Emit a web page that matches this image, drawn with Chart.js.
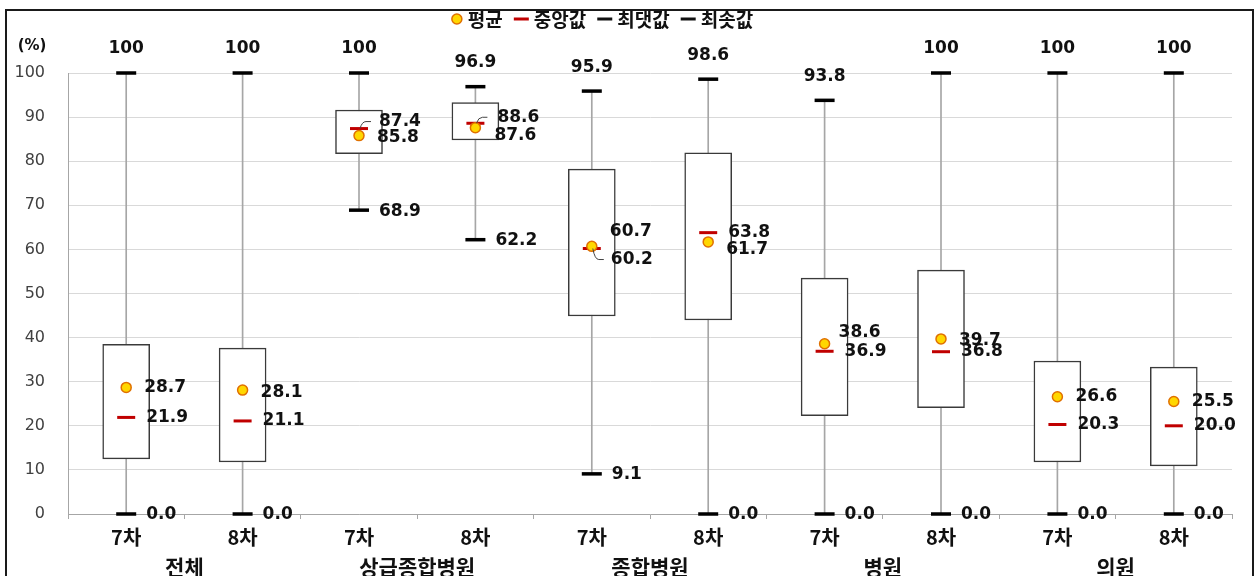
<!DOCTYPE html>
<html>
<head>
<meta charset="utf-8">
<script src="https://cdn.jsdelivr.net/npm/chart.js@4/dist/chart.umd.min.js"></script>
<style>
  html, body { margin: 0; padding: 0; background: #fff; }
  #wrap { width: 1257px; height: 576px; }
</style>
</head>
<body>
<div id="wrap"><canvas id="c" width="1257" height="576"></canvas></div>
<script>
// ---------- data ----------
const categories = ['7차', '8차', '7차', '8차', '7차', '8차', '7차', '8차', '7차', '8차'];
const groups = ['전체', '상급종합병원', '종합병원', '병원', '의원'];
const maxVals = [100, 100, 100, 96.9, 95.9, 98.6, 93.8, 100, 100, 100];
const minVals = [0.0, 0.0, 68.9, 62.2, 9.1, 0.0, 0.0, 0.0, 0.0, 0.0];
const q3Vals = [38.5, 37.6, 91.6, 93.3, 78.2, 81.9, 53.5, 55.3, 34.7, 33.3];
const q1Vals = [12.5, 11.8, 81.7, 84.8, 44.9, 44.0, 22.3, 24.1, 11.8, 10.9];
const meanVals = [28.7, 28.1, 85.8, 87.6, 60.7, 61.7, 38.6, 39.7, 26.6, 25.5];
const medianVals = [21.9, 21.1, 87.4, 88.6, 60.2, 63.8, 36.9, 36.8, 20.3, 20.0];
const legendLabels = ['평균', '중앙값', '최댓값', '최솟값'];
const unitLabel = '(%)';

// ---------- label placement (style only) ----------
const meanLabelDx = [18, 18, 18, 19, 18, 18, 14, 18, 18, 18];
const meanLabelDy = [0, 2, 1.5, 8, -15, 8, -11, 2, 0, 0];
const medianLabelDx = [20, 20, 20, 22, 19, 20, 20, 20, 20, 20];
const medianLabelDy = [0, 0, -7, -6, 11, 0, 0, 0, 0, 0];
const medianLeader = [false, false, true, true, true, false, false, false, false, false];

const NUM_FONT = 'bold 17px "DejaVu Sans", sans-serif';
const KOR_FONT = '"Noto Sans CJK KR", "Noto Sans", sans-serif';

function fmt(v) { return v === 100 ? '100' : v.toFixed(1); }

const annotPlugin = {
  id: 'annot',
  beforeDraw(chart) {
    const ctx = chart.ctx;
    ctx.save();
    ctx.fillStyle = '#fff';
    ctx.fillRect(0, 0, chart.width, chart.height);
    ctx.strokeStyle = '#1a1a1a';
    ctx.lineWidth = 2;
    ctx.strokeRect(6, 10, 1247, 620);
    ctx.restore();
  },
  afterDraw(chart) {
    const ctx = chart.ctx;
    const xs = chart.scales.x, ys = chart.scales.y;
    ctx.save();
    ctx.font = NUM_FONT;
    ctx.fillStyle = '#111';
    ctx.textBaseline = 'middle';
    categories.forEach((c, i) => {
      const x = xs.getPixelForValue(i);
      ctx.textAlign = 'center';
      ctx.fillText(fmt(maxVals[i]), x, ys.getPixelForValue(maxVals[i]) - 24);
      ctx.textAlign = 'left';
      ctx.fillText(fmt(minVals[i]), x + 20, ys.getPixelForValue(minVals[i]) + 1);
      const ym = ys.getPixelForValue(meanVals[i]);
      ctx.fillText(fmt(meanVals[i]), x + meanLabelDx[i], ym + meanLabelDy[i]);
      const yd = ys.getPixelForValue(medianVals[i]);
      const yl = yd + medianLabelDy[i];
      ctx.fillText(fmt(medianVals[i]), x + medianLabelDx[i], yl);
      if (medianLeader[i]) {
        ctx.strokeStyle = '#444';
        ctx.lineWidth = 1;
        ctx.beginPath();
        ctx.moveTo(x + 1, yd);
        ctx.quadraticCurveTo(x + 3, yl, x + 7, yl);
        ctx.lineTo(x + 12, yl);
        ctx.stroke();
      }
    });

    ctx.textAlign = 'center';
    ctx.font = 'bold 15px "DejaVu Sans", sans-serif';
    ctx.fillText(unitLabel, 32, 46);

    // legend
    ctx.font = 'bold 19px ' + KOR_FONT;
    const markerW = [12, 15, 15, 15];
    const gapIn = 5, gapOut = 11;
    let total = 0;
    legendLabels.forEach((t, k) => {
      total += markerW[k] + gapIn + ctx.measureText(t).width + (k < legendLabels.length - 1 ? gapOut : 0);
    });
    let lx = 602 - total / 2;
    const ly = 19;
    legendLabels.forEach((t, k) => {
      if (k === 0) {
        ctx.beginPath();
        ctx.arc(lx + 6, ly, 5, 0, Math.PI * 2);
        ctx.fillStyle = '#ffd700';
        ctx.fill();
        ctx.strokeStyle = '#e07000';
        ctx.lineWidth = 1.5;
        ctx.stroke();
      } else {
        ctx.strokeStyle = k === 1 ? '#c00000' : '#111';
        ctx.lineWidth = 3;
        ctx.beginPath();
        ctx.moveTo(lx, ly);
        ctx.lineTo(lx + markerW[k], ly);
        ctx.stroke();
      }
      lx += markerW[k] + gapIn;
      ctx.fillStyle = '#111';
      ctx.textAlign = 'left';
      ctx.fillText(t, lx, ly + 1);
      lx += ctx.measureText(t).width + gapOut;
    });
    ctx.restore();
  }
};

const ctx = document.getElementById('c').getContext('2d');
new Chart(ctx, {
  type: 'bar',
  data: {
    labels: categories,
    datasets: [
      {
        label: 'whisker', type: 'bar',
        data: categories.map((_, i) => [minVals[i], maxVals[i]]),
        backgroundColor: '#a6a6a6', barThickness: 1, grouped: false, order: 10
      },
      {
        label: 'box', type: 'bar',
        data: categories.map((_, i) => [q1Vals[i], q3Vals[i]]),
        backgroundColor: '#ffffff', borderColor: '#3a3a3a', borderWidth: 1.5,
        borderSkipped: false, barThickness: 47, grouped: false, order: 9
      },
      {
        label: legendLabels[2], type: 'line', data: maxVals, showLine: false, clip: false,
        pointStyle: 'line', pointRadius: 10, pointBorderWidth: 3.5,
        pointBorderColor: '#000', pointBackgroundColor: '#000', order: 4
      },
      {
        label: legendLabels[3], type: 'line', data: minVals, showLine: false, clip: false,
        pointStyle: 'line', pointRadius: 10, pointBorderWidth: 3.5,
        pointBorderColor: '#000', pointBackgroundColor: '#000', order: 3
      },
      {
        label: legendLabels[1], type: 'line', data: medianVals, showLine: false, clip: false,
        pointStyle: 'line', pointRadius: 9, pointBorderWidth: 3,
        pointBorderColor: '#c00000', pointBackgroundColor: '#c00000', order: 2
      },
      {
        label: legendLabels[0], type: 'line', data: meanVals, showLine: false, clip: false,
        pointStyle: 'circle', pointRadius: 5, pointBorderWidth: 1.5,
        pointBorderColor: '#e07000', pointBackgroundColor: '#ffd700', order: 1
      }
    ]
  },
  options: {
    responsive: false,
    devicePixelRatio: 1,
    animation: false,
    layout: { padding: { top: 73, right: 25, bottom: 0, left: 0 } },
    plugins: { legend: { display: false }, tooltip: { enabled: false } },
    scales: {
      x: {
        type: 'category', labels: categories, offset: true, position: 'bottom',
        grid: { offset: true, drawOnChartArea: false, drawTicks: true, tickLength: 5, color: '#a6a6a6' },
        border: { color: '#a6a6a6' },
        ticks: { font: { family: KOR_FONT, size: 20, weight: 'bold' }, color: '#111', padding: 6, maxRotation: 0, autoSkip: false },
        afterFit(s) { s.height = 40; }
      },
      x2: {
        type: 'category', labels: groups, offset: true, position: 'bottom',
        grid: { display: false, drawTicks: false },
        border: { display: false },
        ticks: { font: { family: KOR_FONT, size: 21, weight: 'bold' }, color: '#111', padding: 0, maxRotation: 0, autoSkip: false },
        afterFit(s) { s.height = 22; }
      },
      y: {
        min: 0, max: 100,
        ticks: { stepSize: 10, padding: 23, font: { family: '"DejaVu Sans", sans-serif', size: 16 }, color: '#404040' },
        grid: { color: '#d9d9d9', drawTicks: false },
        border: { color: '#a6a6a6' },
        afterFit(s) { s.width = 68; }
      }
    }
  },
  plugins: [annotPlugin]
});
</script>
</body>
</html>
